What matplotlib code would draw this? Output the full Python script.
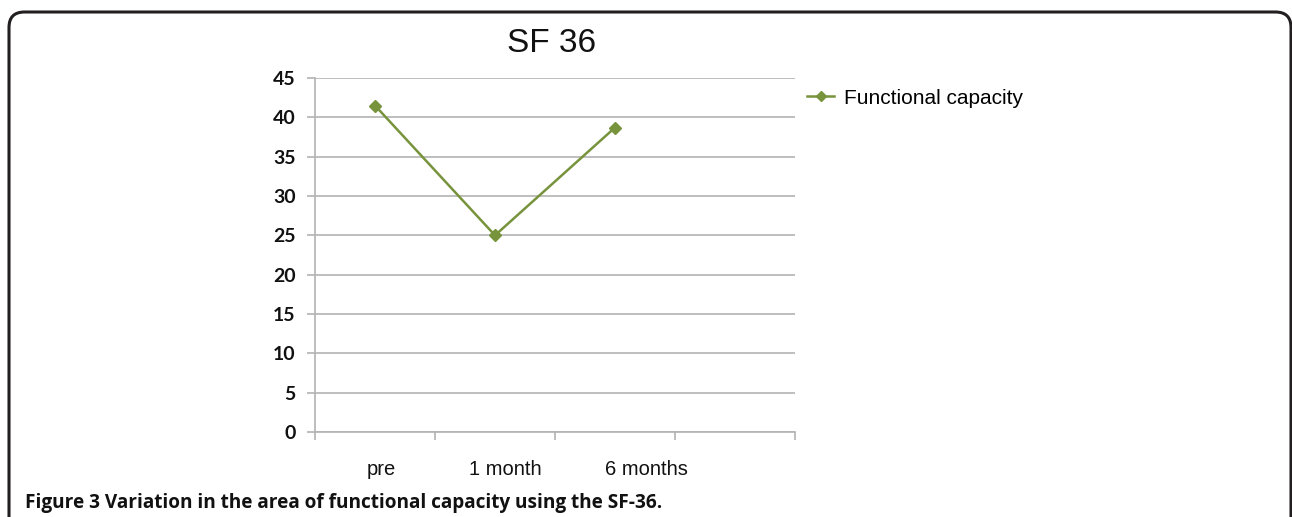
import matplotlib
matplotlib.use("Agg")
import matplotlib.pyplot as plt
from matplotlib.patches import FancyBboxPatch
from matplotlib.lines import Line2D
import matplotlib.transforms as mtransforms

categories = ["pre", "1 month", "6 months"]
values = [41.5, 25.0, 38.7]
yticks = [0, 5, 10, 15, 20, 25, 30, 35, 40, 45]
series_name = "Functional capacity"
title = "SF 36"
caption = "Figure 3 Variation in the area of functional capacity using the SF-36."

W, H = 1292, 517
fig = plt.figure(figsize=(W / 100, H / 100), dpi=100)

# outer rounded frame
frame = FancyBboxPatch((9 / W, -30 / H), (1291 - 9) / W, (H - 12 + 30) / H,
                       boxstyle="round,pad=0,rounding_size=0.012",
                       transform=fig.transFigure, fill=False, edgecolor="#231f20",
                       linewidth=2.2, mutation_aspect=W / H)
fig.patches.append(frame)

ax = fig.add_axes([315 / W, (H - 432) / H, 480 / W, 354 / H])
green = "#77933C"
grid = "#b3b3b3"
x = list(range(len(categories)))
ax.plot(x, values, color=green, linewidth=1.8, marker="D", markersize=6,
        markerfacecolor=green, markeredgecolor=green)

ax.set_xlim(-0.5, 3.5)
ax.set_ylim(0, 45)
ax.set_yticks(yticks)
ax.yaxis.grid(True, color=grid, linewidth=1.2)
ax.set_axisbelow(True)
for s in ["top", "right"]:
    ax.spines[s].set_visible(False)
for s in ["left", "bottom"]:
    ax.spines[s].set_color(grid)
    ax.spines[s].set_linewidth(1.2)

ax.set_xticks([-0.5, 0.5, 1.5, 2.5, 3.5])
ax.set_xticklabels([])
ax.set_xticks(x, minor=True)
ax.set_xticklabels(categories, minor=True, fontsize=14.5, family="Liberation Sans", color="#111111")
ax.tick_params(axis="x", which="major", length=6, color=grid, width=1.2)
ax.tick_params(axis="x", which="minor", length=0, pad=20)
ax.tick_params(axis="y", length=6, color=grid, width=1.2, pad=8)
for lab in ax.get_yticklabels():
    lab.set_family("Lato")
    lab.set_fontweight("bold")
    lab.set_fontsize(14)
    lab.set_color("#111111")

offsets = [6, 10, 31]
for lab, off in zip(ax.xaxis.get_minorticklabels(), offsets):
    lab.set_transform(lab.get_transform() + mtransforms.ScaledTranslation(off / 100, 0, fig.dpi_scale_trans))

fig.text(552 / W, 1 - 43 / H, title, ha="center", va="center", fontsize=24,
         family="Liberation Sans", color="#111111")

# legend
leg_handle = Line2D([], [], color=green, linewidth=1.8, marker="D", markersize=5,
                    markerfacecolor=green, markeredgecolor=green)
fig.legend([leg_handle], [series_name], loc="center left",
           bbox_to_anchor=(807 / W, 1 - 98 / H), frameon=False,
           prop={"family": "Liberation Sans", "size": 15}, handlelength=1.3,
           handletextpad=0.5, borderaxespad=0, borderpad=0)

fig.text(25 / W, 1 - 503 / H, caption, ha="left", va="center", fontsize=13.7,
         family="Open Sans", fontweight="bold", color="#111111")

fig.savefig("out.png", dpi=100)
